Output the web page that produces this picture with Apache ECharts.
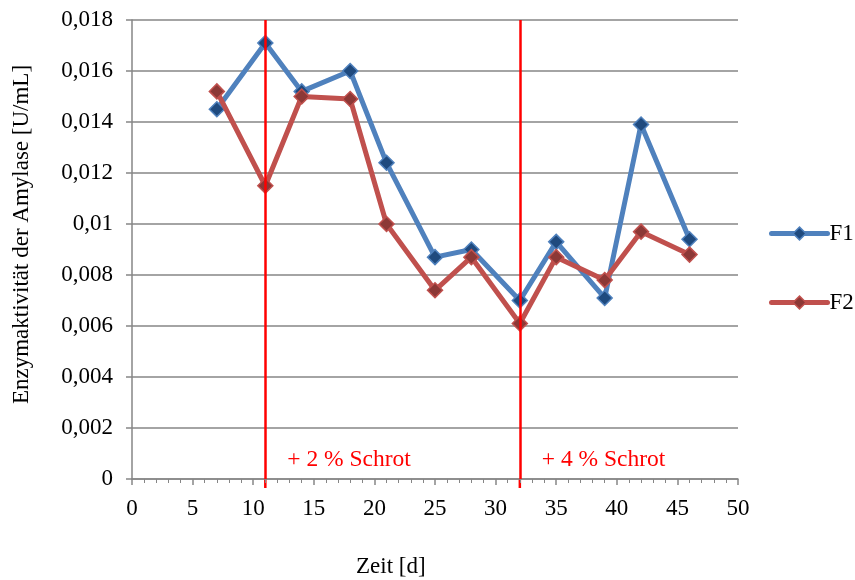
<!DOCTYPE html>
<html>
<head>
<meta charset="utf-8">
<script src="https://cdn.jsdelivr.net/npm/echarts@6/dist/echarts.min.js"></script>
<style>
  html, body { margin: 0; padding: 0; background: #fff; }
  #chart { width: 855px; height: 580px; }
</style>
</head>
<body>
<div id="chart"></div>
<script>
// Sampling days and enzyme activity of amylase (U/mL) for both fermenters
const days = [7, 11, 14, 18, 21, 25, 28, 32, 35, 39, 42, 46];
const f1Values = [0.0145, 0.0171, 0.0152, 0.0160, 0.0124, 0.0087, 0.0090, 0.0070, 0.0093, 0.0071, 0.0139, 0.0094];
const f2Values = [0.0152, 0.0115, 0.0150, 0.0149, 0.0100, 0.0074, 0.0087, 0.0061, 0.0087, 0.0078, 0.0097, 0.0088];

// Days on which meal was added, with their notes
const additionDays = [11, 32];
const additionNotes = ['+ 2 % Schrot', '+ 4 % Schrot'];

const seriesNames = ['F1', 'F2'];
const xTitle = 'Zeit [d]';
const yTitle = 'Enzymaktivität der Amylase [U/mL]';

const FONT = '"Liberation Serif", "Times New Roman", serif';
const GRAY = '#868686';
const DIAMOND = 'path://M0,-1L1,0L0,1L-1,0Z';

const chart = echarts.init(document.getElementById('chart'));

function pairs(vals) {
  return days.map((d, i) => [d, vals[i]]);
}

function fmtY(v) {
  return String(+v.toFixed(3)).replace('.', ',');
}

const option = {
  animation: false,
  backgroundColor: '#fff',
  grid: { left: 132, right: 117, top: 20, bottom: 101, containLabel: false },
  xAxis: {
    type: 'value',
    min: 0, max: 50, interval: 5,
    axisLine: { show: true, lineStyle: { color: GRAY, width: 1.5 } },
    axisTick: { show: true, inside: false, length: 6, lineStyle: { color: GRAY, width: 1.5 } },
    minorTick: { show: true, splitNumber: 5, length: 4, lineStyle: { color: GRAY, width: 1 } },
    splitLine: { show: false },
    axisLabel: { color: '#000', fontFamily: FONT, fontSize: 23, margin: 18 }
  },
  yAxis: {
    type: 'value',
    min: 0, max: 0.018, interval: 0.002,
    axisLine: { show: true, lineStyle: { color: GRAY, width: 1.5 } },
    axisTick: { show: true, inside: false, length: 6, lineStyle: { color: GRAY, width: 1.5 } },
    splitLine: { show: true, lineStyle: { color: GRAY, width: 1.5 } },
    axisLabel: { color: '#000', fontFamily: FONT, fontSize: 23, margin: 19, formatter: fmtY }
  },
  legend: {
    orient: 'vertical',
    left: 764, top: 217,
    itemWidth: 56, itemHeight: 16, itemGap: 46,
    textStyle: { color: '#000', fontFamily: FONT, fontSize: 23, padding: [0, 0, 0, -3] },
    data: seriesNames.map((n, i) => ({
      name: n,
      itemStyle: i === 0
        ? { color: '#1f4a7e', borderColor: '#4f81bd', borderWidth: 1.5 }
        : { color: '#8c3836', borderColor: '#c0504d', borderWidth: 1.5 },
      lineStyle: { width: 5, color: i === 0 ? '#4f81bd' : '#c0504d', cap: 'round' }
    }))
  },
  series: [
    {
      name: seriesNames[0],
      type: 'line',
      data: pairs(f1Values),
      symbol: DIAMOND,
      symbolSize: 15,
      z: 3,
      lineStyle: { color: '#4f81bd', width: 5 },
      itemStyle: { color: '#1f4a7e', borderColor: '#4f81bd', borderWidth: 1.5 },
      markLine: {
        silent: true,
        symbol: 'none',
        label: { show: false },
        lineStyle: { color: '#ff0000', width: 2.5, type: 'solid' },
        data: additionDays.map(d => ({ xAxis: d }))
      }
    },
    {
      name: seriesNames[1],
      type: 'line',
      data: pairs(f2Values),
      symbol: DIAMOND,
      symbolSize: 15,
      z: 4,
      lineStyle: { color: '#c0504d', width: 5 },
      itemStyle: { color: '#8c3836', borderColor: '#c0504d', borderWidth: 1.5 }
    }
  ]
};

chart.setOption(option);

// Axis titles and addition notes positioned from the axis scales
const yMid = chart.convertToPixel({ gridIndex: 0 }, [0, 0.009])[1];
const notes = additionDays.map((d, i) => {
  const p = chart.convertToPixel({ gridIndex: 0 }, [d, 0]);
  return {
    type: 'text',
    left: p[0] + 22,
    top: p[1] - 31,
    style: { text: additionNotes[i], fill: '#ff0000', font: '23.5px ' + FONT }
  };
});

// Short extensions of the addition markers below the x axis
const stubs = additionDays.map(d => {
  const p = chart.convertToPixel({ gridIndex: 0 }, [d, 0]);
  return {
    type: 'line',
    shape: { x1: p[0], y1: p[1], x2: p[0], y2: p[1] + 9 },
    style: { stroke: '#ff0000', lineWidth: 2.5 }
  };
});

chart.setOption({
  graphic: [
    {
      type: 'text',
      left: 356, top: 555,
      style: { text: xTitle, fill: '#000', font: '23px ' + FONT }
    },
    {
      type: 'text',
      x: 22, y: yMid - 15,
      rotation: Math.PI / 2,
      style: { text: yTitle, fill: '#000', font: '23px ' + FONT, align: 'center', verticalAlign: 'middle' }
    }
  ].concat(notes, stubs)
});
</script>
</body>
</html>
